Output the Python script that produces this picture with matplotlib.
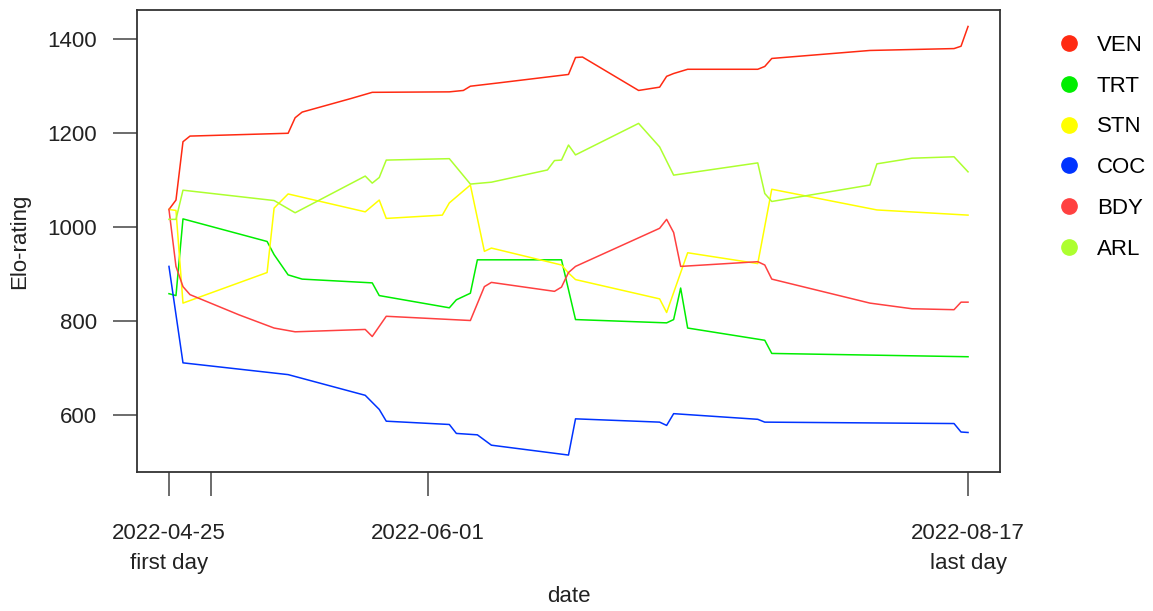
import numpy as np
import matplotlib
matplotlib.use("Agg")
import matplotlib.pyplot as plt
import matplotlib.dates as mdates
import matplotlib.transforms as mtransforms
from matplotlib.lines import Line2D

plt.rcParams["font.family"] = ["Liberation Sans", "DejaVu Sans"]

# day offsets from the first match day and the Elo rating after that day
start = np.datetime64("2022-04-25")

ven_days = [0, 1, 2, 3, 17, 18, 19, 26, 29, 40, 42, 43, 47, 57, 58, 59, 67, 70,
            71, 72, 74, 84, 85, 86, 100, 112, 113, 114]
ven_elo = [1037, 1057, 1181, 1193, 1199, 1232, 1244, 1273, 1286, 1287, 1290,
           1299, 1306, 1324, 1360, 1361, 1290, 1297, 1320, 1326, 1335, 1335,
           1341, 1358, 1375, 1379, 1384, 1426]

trt_days = [0, 1, 2, 14, 15, 17, 19, 29, 30, 40, 41, 43, 44, 56, 58, 71, 72,
            73, 74, 85, 86, 114]
trt_elo = [858, 854, 1017, 969, 941, 898, 889, 881, 854, 828, 845, 859, 930,
           930, 803, 796, 803, 870, 785, 759, 731, 724]

stn_days = [0, 1, 2, 14, 15, 17, 28, 30, 31, 39, 40, 43, 45, 46, 56, 57, 58,
            70, 71, 74, 84, 86, 101, 114]
stn_elo = [1037, 1035, 838, 903, 1040, 1070, 1032, 1057, 1018, 1025, 1051,
           1089, 948, 955, 919, 902, 888, 847, 818, 945, 922, 1080, 1036, 1025]

coc_days = [0, 2, 17, 28, 30, 31, 40, 41, 44, 46, 57, 58, 70, 71, 72, 84, 85,
            112, 113, 114]
coc_elo = [916, 711, 686, 642, 612, 587, 580, 561, 558, 536, 515, 592, 585,
           578, 603, 591, 585, 582, 564, 563]

bdy_days = [0, 1, 2, 3, 10, 15, 18, 28, 29, 31, 43, 45, 46, 55, 56, 57, 58,
            70, 71, 72, 73, 84, 85, 86, 100, 106, 112, 113, 114]
bdy_elo = [1037, 916, 873, 856, 813, 785, 777, 782, 767, 810, 801, 873, 882,
           863, 872, 903, 916, 997, 1016, 988, 916, 926, 919, 889, 838, 826,
           824, 840, 840]

arl_days = [0, 1, 2, 15, 18, 28, 29, 30, 31, 40, 43, 46, 54, 55, 56, 57, 58,
            67, 70, 72, 84, 85, 86, 100, 101, 106, 112, 114]
arl_elo = [1016, 1016, 1078, 1056, 1030, 1108, 1093, 1105, 1142, 1145, 1091,
           1095, 1121, 1141, 1142, 1174, 1153, 1220, 1170, 1110, 1136, 1071,
           1054, 1089, 1134, 1146, 1149, 1117]

teams = ["VEN", "TRT", "STN", "COC", "BDY", "ARL"]
colors = ["#FF2A12", "#00EE00", "#FFFF00", "#0033FF", "#FF4040", "#ADFF2F"]
series = [(ven_days, ven_elo), (trt_days, trt_elo), (stn_days, stn_elo),
          (coc_days, coc_elo), (bdy_days, bdy_elo), (arl_days, arl_elo)]

tick_days = [0, 6, 37, 114]
tick_labels = ["2022-04-25", "", "2022-06-01", "2022-08-17"]

fig = plt.figure(figsize=(11.53, 6.11), dpi=100)
ax = fig.add_axes([137 / 1153, 1 - 472 / 611, 863 / 1153, 462 / 611])

for (days, elo), col in zip(series, colors):
    ax.plot(start + np.array(days), elo, color=col, lw=1.1)

first = mdates.date2num(start)
last = first + 114
ext = 114 * 0.04
ax.set_xlim(first - ext, last + ext)
ax.set_ylim(479, 1461)

ax.set_xticks([first + d for d in tick_days])
ax.set_xticklabels(tick_labels)
ax.set_yticks([600, 800, 1000, 1200, 1400])

ax.tick_params(axis="both", labelsize=16, length=17, width=1.1,
               color="#444444", labelcolor="#222222")
ax.tick_params(axis="x", pad=20)
ax.tick_params(axis="y", pad=12)
for sp in ax.spines.values():
    sp.set_color("#333333")
    sp.set_linewidth(1.3)

ax.set_ylabel("Elo-rating", fontsize=16, color="#222222", labelpad=12)

# second line of labels under the first and last day
trans = mtransforms.blended_transform_factory(ax.transData, fig.transFigure)
ax.text(first, 1 - 563 / 611, "first day", transform=trans, ha="center",
        va="center", fontsize=16, color="#222222")
ax.text(last, 1 - 563 / 611, "last day", transform=trans, ha="center",
        va="center", fontsize=16, color="#222222")
fig.text((137 + 863 / 2) / 1153, 1 - 597 / 611, "date", ha="center",
         va="center", fontsize=16, color="#222222")

handles = [Line2D([], [], marker="o", ls="", color=c, markersize=11)
           for c in colors]
fig.legend(handles, teams, loc="upper left",
           bbox_to_anchor=(1049 / 1153, 1 - 26 / 611), frameon=False,
           fontsize=16, labelspacing=0.89, handletextpad=0.75,
           handlelength=1.0, borderaxespad=0)

fig.savefig("out.png", dpi=100)
